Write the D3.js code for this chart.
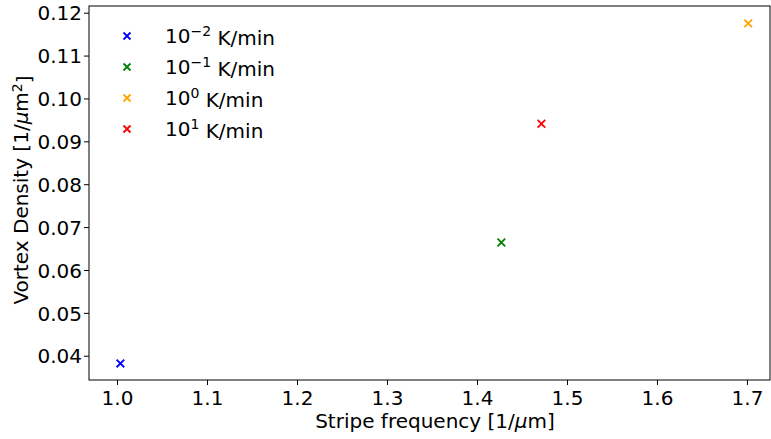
<!DOCTYPE html>
<html>
<head>
<meta charset="utf-8">
<script src="https://cdn.jsdelivr.net/npm/d3@7"></script>
<style>
  body { margin: 0; background: #fff; }
  text { font-family: "DejaVu Sans", sans-serif; fill: #000; }
</style>
</head>
<body>
<svg width="771" height="439"></svg>
<script>
// data
const rates = ["-2", "-1", "0", "1"];
const colors = ["blue", "green", "orange", "red"];
const freq = [1.0038, 1.4271, 1.7014, 1.4716];
const density = [0.0382, 0.0664, 0.1175, 0.0941];
const xTicks = [1.0, 1.1, 1.2, 1.3, 1.4, 1.5, 1.6, 1.7];
const yTicks = [0.04, 0.05, 0.06, 0.07, 0.08, 0.09, 0.10, 0.11, 0.12];

const svg = d3.select("svg"),
    mLeft = 89, mRight = 770, mTop = 6, mBottom = 380;

const x = d3.scaleLinear().domain([0.9689, 1.7256]).range([mLeft, mRight]);
const y = d3.scaleLinear().domain([0.03434, 0.12156]).range([mBottom, mTop]);

// axes
const xAxis = svg.append("g")
    .attr("transform", "translate(0," + mBottom + ")")
    .call(d3.axisBottom(x).tickValues(xTicks).tickFormat(d3.format(".1f")).tickSize(5).tickSizeOuter(0));
const yAxis = svg.append("g")
    .attr("transform", "translate(" + mLeft + ",0)")
    .call(d3.axisLeft(y).tickValues(yTicks).tickFormat(d3.format(".2f")).tickSize(5).tickSizeOuter(0));

[xAxis, yAxis].forEach(g => {
    g.select(".domain").remove();
    g.selectAll("line").attr("stroke", "#000").attr("stroke-width", 1);
    g.selectAll("text").style("font-size", "20px").style("font-family", "DejaVu Sans");
});
xAxis.selectAll("text").attr("y", 25).attr("dy", 0);
yAxis.selectAll("text").attr("x", -7).attr("dy", "0.36em");

// frame
svg.append("rect")
    .attr("x", mLeft).attr("y", mTop)
    .attr("width", mRight - mLeft).attr("height", mBottom - mTop)
    .attr("fill", "none").attr("stroke", "#000").attr("stroke-width", 1);

// x markers
function cross(g, cx, cy, c, r) {
    g.append("path")
        .attr("d", `M${cx - r},${cy - r}L${cx + r},${cy + r}M${cx - r},${cy + r}L${cx + r},${cy - r}`)
        .attr("stroke", c).attr("stroke-width", 1.8).attr("fill", "none");
}
const pts = svg.append("g");
freq.forEach((f, i) => cross(pts, x(f), y(density[i]), colors[i], 3.8));

// legend
const leg = svg.append("g");
rates.forEach((r, i) => {
    const ly = 36 + i * 31;
    cross(leg, 127, ly, colors[i], 3.5);
    const t = leg.append("text").attr("x", 165).attr("y", ly).attr("dy", "0.33em")
        .style("font-size", "20px");
    t.append("tspan").text("10");
    t.append("tspan").text(r.replace("-", "\u2212")).attr("dy", "-0.45em").style("font-size", "14px");
    t.append("tspan").text(" K/min").attr("dy", "0.45em");
});

// axis labels
const xl = svg.append("text").attr("x", 435).attr("y", 428)
    .attr("text-anchor", "middle").style("font-size", "20px");
xl.append("tspan").text("Stripe frequency [1/");
xl.append("tspan").text("\u03bc").style("font-style", "italic");
xl.append("tspan").text("m]");

const yl = svg.append("text").attr("transform", "translate(28,190) rotate(-90)")
    .attr("text-anchor", "middle").style("font-size", "20px");
yl.append("tspan").text("Vortex Density [1/");
yl.append("tspan").text("\u03bc").style("font-style", "italic");
yl.append("tspan").text("m");
yl.append("tspan").text("2").attr("dy", "-0.45em").style("font-size", "14px");
yl.append("tspan").text("]").attr("dy", "0.45em");
</script>
</body>
</html>
